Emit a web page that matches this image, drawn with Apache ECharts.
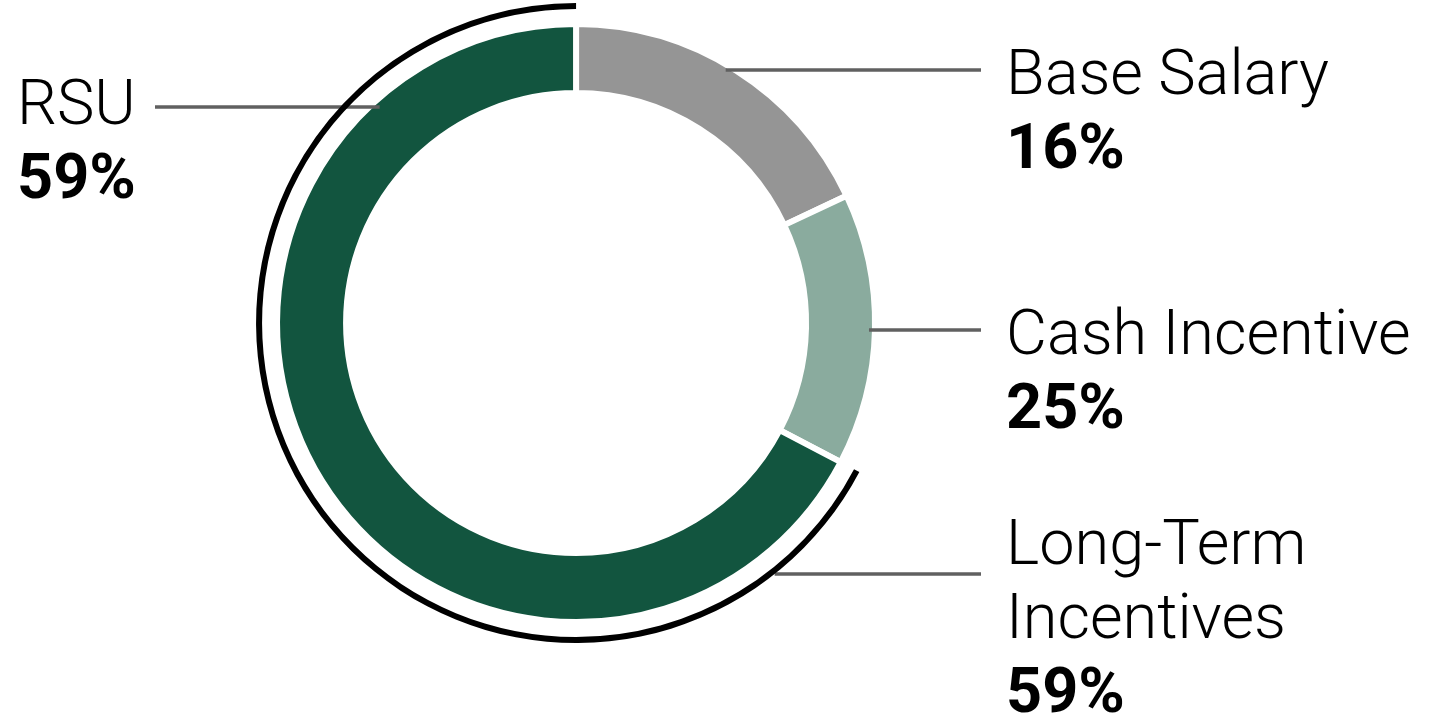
<!DOCTYPE html>
<html>
<head>
<meta charset="utf-8">
<script src="https://cdn.jsdelivr.net/npm/echarts@6/dist/echarts.min.js"></script>
<style>
  html, body { margin: 0; padding: 0; background: #ffffff; }
  #chart { width: 1433px; height: 726px; }
</style>
</head>
<body>
<div id="chart"></div>
<script>
// ---- data ----
const categories = ['Base Salary', 'Cash Incentive', 'Long-Term Incentives'];
const labelNames = ['Base Salary', 'Cash Incentive', 'Long-Term\nIncentives'];
const sliceShares = [18.0, 14.7, 67.3];        // arc shares as drawn
const labelPercents = ['16%', '25%', '59%'];   // printed percentages
const outerArcName = 'RSU';
const outerArcPercent = '59%';

// ---- layout ----
const CENTER = [0.402, 0.445];
const RING = [230, 299];
const ARC = [314, 320];
const CENTER_PCT = [(CENTER[0] * 100) + '%', (CENTER[1] * 100) + '%'];

const chart = echarts.init(document.getElementById('chart'), null, { renderer: 'canvas' });

const ringLabels = [
  { side: 'right', r: 294, lineY: 70,  lineEnd: 981, textX: 1006, textY: 41 },
  { side: 'right', r: 293, lineY: 330, lineEnd: 981, textX: 1006, textY: 301 },
  { side: 'right', r: 320, lineY: 574, lineEnd: 981, textX: 1006, textY: 511 }
];
const arcLabels = [
  null,
  { side: 'left', r: 292, lineY: 107, lineEnd: 155, textX: 17, textY: 71 }
];

function makeLayout(specs) {
  return function (params) {
    const s = specs[params.dataIndex];
    if (!s) return {};
    const cx = chart.getWidth() * CENTER[0];
    const cy = chart.getHeight() * CENTER[1];
    const dy = s.lineY - cy;
    const dx = Math.sqrt(Math.max(0, s.r * s.r - dy * dy));
    const ax = s.side === 'right' ? cx + dx : cx - dx;
    return {
      x: s.textX,
      y: s.textY,
      align: 'left',
      verticalAlign: 'top',
      labelLinePoints: [[ax, s.lineY], [(ax + s.lineEnd) / 2, s.lineY], [s.lineEnd, s.lineY]]
    };
  };
}

const richStyles = {
  n: { fontFamily: 'Roboto', fontSize: 63, fontWeight: 300, lineHeight: 74, color: '#000000' },
  p: { fontFamily: 'Roboto', fontSize: 63, fontWeight: 'bold', lineHeight: 74, color: '#000000' }
};
const leaderStyle = { color: '#606060', width: 3.5 };

const sliceColors = ['#959595', '#8aab9e', '#12553f'];

const ringData = categories.map((c, i) => ({
  name: c,
  value: sliceShares[i],
  itemStyle: { color: sliceColors[i] }
}));

// same slices, invisible, only carrying the labels so their leader lines sit above the ring
const ringLabelData = categories.map((c, i) => ({
  name: c,
  value: sliceShares[i]
}));

const arcData = [
  { name: '', value: sliceShares[0] + sliceShares[1], itemStyle: { color: 'rgba(0,0,0,0)' },
    label: { show: false }, labelLine: { show: false } },
  { name: outerArcName, value: sliceShares[2], itemStyle: { color: '#000000' } }
];

const option = {
  backgroundColor: '#ffffff',
  animation: false,
  series: [
    {
      type: 'pie',
      z: 1,
      center: CENTER_PCT,
      radius: RING,
      startAngle: 90,
      clockwise: true,
      silent: true,
      itemStyle: { borderColor: '#ffffff', borderWidth: 6 },
      emphasis: { disabled: true },
      label: { show: false },
      labelLine: { show: false },
      data: ringData
    },
    {
      type: 'pie',
      z: 2,
      center: CENTER_PCT,
      radius: RING,
      startAngle: 90,
      clockwise: true,
      silent: true,
      itemStyle: { color: 'rgba(0,0,0,0)', borderWidth: 0 },
      emphasis: { disabled: true },
      label: {
        show: true,
        position: 'outside',
        width: 700,
        formatter: function (p) {
          return '{n|' + labelNames[p.dataIndex] + '}\n{p|' + labelPercents[p.dataIndex] + '}';
        },
        rich: richStyles
      },
      labelLine: { show: true, lineStyle: leaderStyle },
      labelLayout: makeLayout(ringLabels),
      data: ringLabelData
    },
    {
      type: 'pie',
      z: 3,
      center: CENTER_PCT,
      radius: ARC,
      startAngle: 90,
      clockwise: true,
      silent: true,
      itemStyle: { borderWidth: 0 },
      emphasis: { disabled: true },
      label: {
        show: true,
        position: 'outside',
        width: 700,
        formatter: function () {
          return '{n|' + outerArcName + '}\n{p|' + outerArcPercent + '}';
        },
        rich: richStyles
      },
      labelLine: { show: true, lineStyle: leaderStyle },
      labelLayout: makeLayout(arcLabels),
      data: arcData
    }
  ]
};

chart.setOption(option);
</script>
</body>
</html>
